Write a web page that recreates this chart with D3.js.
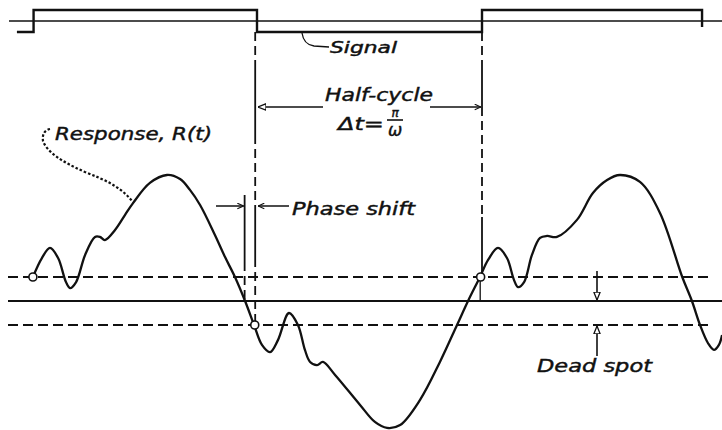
<!DOCTYPE html>
<html>
<head>
<meta charset="utf-8">
<script src="https://cdn.jsdelivr.net/npm/d3@7"></script>
<style>
  body { margin: 0; background: #fff; }
  text { font-family: "DejaVu Sans", sans-serif; font-style: italic; fill: #111; stroke: #111; stroke-width: 0.45px; }
</style>
</head>
<body>
<svg id="chart" width="722" height="430"></svg>
<script>
// time is in units where one half-cycle = 100, response in units of the dead spot half-width
let signalT = [-106.7, -99.3, 0, 100, 197.8];
let signalLevel = [-1, 1, -1, 1, -0.55];

let respT = [-99.6, -95.6, -92.0, -88.4, -84.9, -83.1, -80.4, -76.4, -72.0, -69.8, -67.6, -63.1,
  -58.7, -55.1, -47.6, -40.0, -34.2, -29.8, -25.3, -18.7, -14.2, -9.8, -5.3, -1.3, 2.2, 5.8, 9.3,
  14.2, 18.2, 21.3, 23.6, 26.7, 29.3, 34.7, 45.8, 52.4, 57.8, 63.6, 72.4, 81.3, 88.9, 93.8, 99.1,
  102.7, 107.1, 111.1, 114.2, 116.0, 118.7, 122.2, 125.8, 128.9, 133.3, 142.2, 149.3, 155.6, 161.3,
  170.2, 179.1, 189.0, 193.3, 196.9, 200.4, 203.1, 205.3, 206.7];
let respR = [1.0, 1.79, 2.21, 1.79, 0.79, 0.54, 0.79, 1.92, 2.67, 2.67, 2.54, 2.96,
  3.58, 4.08, 4.92, 5.25, 5.08, 4.63, 4.0, 2.75, 1.83, 1.0, 0.0, -1.0, -1.83, -2.13, -1.63,
  -0.5, -1.0, -2.04, -2.54, -2.67, -2.54, -3.08, -4.33, -5.04, -5.29, -5.17, -4.13, -2.54, -1.0, 0.0, 1.0,
  1.71, 2.21, 1.79, 0.88, 0.58, 0.79, 1.92, 2.63, 2.71, 2.67, 3.38, 4.5, 5.04, 5.25,
  4.96, 3.67, 1.0, 0.0, -1.0, -1.75, -2.04, -1.83, -1.42];

let levels = [1, 0, -1];              // dead spot limits and zero line
let markT = [-99.6, -1.0, 99.4];      // open circles on the response
let markR = [1, -1, 1];
let phaseT = [-5.5, 0];               // response crossing, signal edge
let halfCycleT = [0, 100];

let svg = d3.select('#chart');

let xScale = d3.scaleLinear().domain([0, 100]).range([257, 482]);
let yScale = d3.scaleLinear().domain([0, 1]).range([301, 277]);
let sigScale = d3.scaleLinear().domain([-1, 1]).range([32, 10]);

// arrow heads
let defs = svg.append('defs');
defs.append('marker')
  .attr('id', 'open')
  .attr('viewBox', '0 0 10 10')
  .attr('refX', 10).attr('refY', 5)
  .attr('markerWidth', 8).attr('markerHeight', 8)
  .attr('markerUnits', 'userSpaceOnUse')
  .attr('orient', 'auto')
  .append('path')
  .attr('d', 'M0,1 L10,5 L0,9 Z')
  .attr('fill', '#fff').attr('stroke', '#111').attr('stroke-width', 1.6);
defs.append('marker')
  .attr('id', 'chev')
  .attr('viewBox', '0 0 10 10')
  .attr('refX', 10).attr('refY', 5)
  .attr('markerWidth', 7).attr('markerHeight', 7)
  .attr('markerUnits', 'userSpaceOnUse')
  .attr('orient', 'auto')
  .append('path')
  .attr('d', 'M1,1 L10,5 L1,9')
  .attr('fill', 'none').attr('stroke', '#111').attr('stroke-width', 1.6);

// signal baseline + square wave
svg.append('line')
  .attr('x1', 9).attr('x2', 722)
  .attr('y1', sigScale(0)).attr('y2', sigScale(0))
  .attr('stroke', '#111').attr('stroke-width', 1.6);

let sigLine = d3.line()
  .x((d, i) => xScale(signalT[i]))
  .y(d => sigScale(d))
  .curve(d3.curveStepAfter);
svg.append('path')
  .attr('d', sigLine(signalLevel))
  .attr('fill', 'none').attr('stroke', '#111').attr('stroke-width', 2.4);

// horizontal levels
levels.forEach(function (lv) {
  svg.append('line')
    .attr('x1', 8)
    .attr('x2', lv == 0 ? 722 : 712)
    .attr('y1', yScale(lv)).attr('y2', yScale(lv))
    .attr('stroke', '#111')
    .attr('stroke-width', lv == 0 ? 2.2 : 1.8)
    .attr('stroke-dasharray', lv == 0 ? null : '10,5');
});

// vertical guides, [y1, y2, dashed]
function vGuide(t, segs) {
  segs.forEach(function (s) {
    svg.append('line')
      .attr('x1', xScale(t)).attr('x2', xScale(t))
      .attr('y1', s[0]).attr('y2', s[1])
      .attr('stroke', '#111').attr('stroke-width', 1.8)
      .attr('stroke-dasharray', s[2] ? '9,5' : null);
  });
}
vGuide(halfCycleT[0] - 0.8, [[32, 60, true], [60, 135, false], [135, 205, true], [205, 258, false], [258, 325, true]]);
vGuide(halfCycleT[1], [[32, 60, true], [60, 107, false], [107, 217, true], [217, 266, false], [266, 273, true]]);
vGuide(phaseT[0], [[195, 262, false], [262, 301, true]]);
svg.append('line')
  .attr('x1', xScale(halfCycleT[1] - 0.8)).attr('x2', xScale(halfCycleT[1] - 0.8))
  .attr('y1', yScale(0.85)).attr('y2', yScale(0))
  .attr('stroke', '#111').attr('stroke-width', 1.3);

// response curve
let respLine = d3.line()
  .x((d, i) => xScale(respT[i]))
  .y(d => yScale(d))
  .curve(d3.curveCatmullRom.alpha(0.5));
svg.append('path')
  .attr('d', respLine(respR))
  .attr('fill', 'none').attr('stroke', '#111').attr('stroke-width', 2.3);

svg.selectAll('circle.mark')
  .data(markT)
  .enter().append('circle')
  .attr('class', 'mark')
  .attr('cx', d => xScale(d))
  .attr('cy', (d, i) => yScale(markR[i]))
  .attr('r', 4)
  .attr('fill', '#fff').attr('stroke', '#111').attr('stroke-width', 1.6);

// half-cycle dimension
svg.append('line')
  .attr('x1', 323).attr('x2', xScale(halfCycleT[0]) + 1).attr('y1', 107).attr('y2', 107)
  .attr('stroke', '#111').attr('stroke-width', 1.5).attr('marker-end', 'url(#open)');
svg.append('line')
  .attr('x1', 430).attr('x2', xScale(halfCycleT[1]) - 1).attr('y1', 107).attr('y2', 107)
  .attr('stroke', '#111').attr('stroke-width', 1.5).attr('marker-end', 'url(#chev)');

// phase shift arrows
svg.append('line')
  .attr('x1', 216).attr('x2', xScale(phaseT[0]) - 1).attr('y1', 206).attr('y2', 206)
  .attr('stroke', '#111').attr('stroke-width', 1.5).attr('marker-end', 'url(#chev)');
svg.append('line')
  .attr('x1', 289).attr('x2', xScale(phaseT[1]) + 1).attr('y1', 206).attr('y2', 206)
  .attr('stroke', '#111').attr('stroke-width', 1.5).attr('marker-end', 'url(#chev)');

// dead spot arrows
svg.append('line')
  .attr('x1', 597).attr('x2', 597).attr('y1', 271).attr('y2', yScale(0) - 1)
  .attr('stroke', '#111').attr('stroke-width', 1.6).attr('marker-end', 'url(#open)');
svg.append('line')
  .attr('x1', 597).attr('x2', 597).attr('y1', 356).attr('y2', yScale(-1) + 1)
  .attr('stroke', '#111').attr('stroke-width', 1.6).attr('marker-end', 'url(#open)');

// leaders
svg.append('path')
  .attr('d', 'M302,33 C303,40 306,45 314,46 L329,47')
  .attr('fill', 'none').attr('stroke', '#111').attr('stroke-width', 1.3);
svg.append('path')
  .attr('d', 'M50,129 C45,130 42,134 43,141 C47,152 62,162 85,172 C105,180 120,186 133,202')
  .attr('fill', 'none').attr('stroke', '#111').attr('stroke-width', 2.2)
  .attr('stroke-dasharray', '2.5,2');

// labels
function label(txt, x, y, w, size) {
  svg.append('text')
    .attr('x', x).attr('y', y)
    .attr('font-size', size)
    .attr('textLength', w)
    .attr('lengthAdjust', 'spacingAndGlyphs')
    .text(txt);
}
label('Signal', 330, 53, 67, 16);
label('Half-cycle', 325, 101, 108, 18);
label('\u0394t=', 338, 130, 46, 18);
label('Phase shift', 292, 215, 123, 18);
label('Response, R(t)', 55, 140, 157, 18);
label('Dead spot', 537, 372, 115, 18);

// pi over omega
svg.append('text').attr('x', 395).attr('y', 117).attr('font-size', 12)
  .attr('text-anchor', 'middle').text('\u03c0');
svg.append('line').attr('x1', 387).attr('x2', 403).attr('y1', 120).attr('y2', 120)
  .attr('stroke', '#111').attr('stroke-width', 1.6);
svg.append('text').attr('x', 395).attr('y', 136).attr('font-size', 17)
  .attr('text-anchor', 'middle').text('\u03c9');
</script>
</body>
</html>
